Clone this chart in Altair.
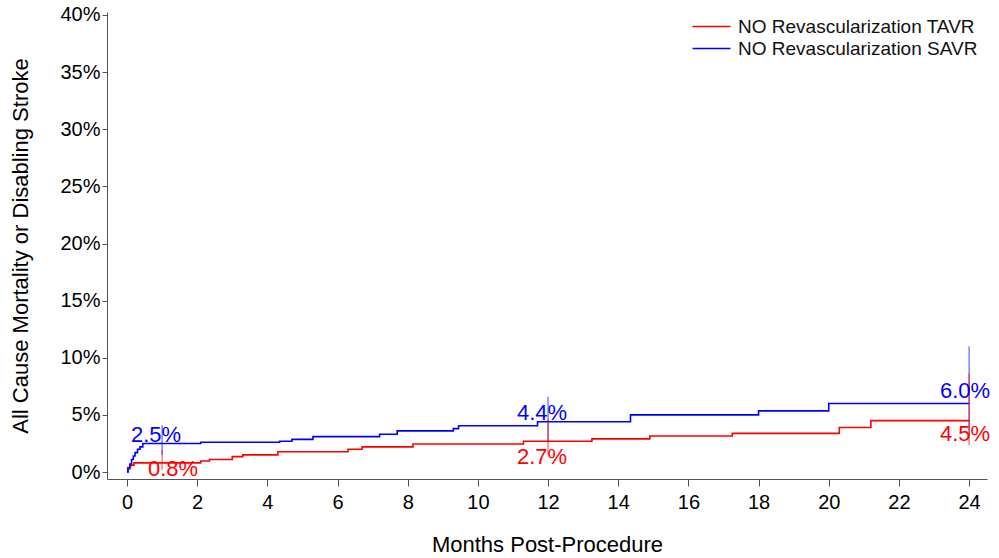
import altair as alt
import pandas as pd

# ---- data ----
tavr_month = [0, 0.02, 0.1, 0.2, 2.1, 2.35, 3.0, 3.3, 4.3, 6.3, 6.7, 8.15, 11.3, 13.25, 14.9, 17.25, 20.3, 21.2, 24]
tavr_pct = [0, 0.4, 0.6, 0.8, 0.96, 1.1, 1.35, 1.5, 1.78, 2.0, 2.2, 2.45, 2.7, 2.9, 3.15, 3.38, 3.9, 4.5, 4.5]

savr_month = [0, 0.03, 0.08, 0.13, 0.18, 0.23, 0.3, 0.37, 0.45, 2.1, 4.35, 4.7, 5.3, 7.2, 7.7, 9.3, 9.45, 11.7, 14.35, 18.0, 20.0, 24]
savr_pct = [0, 0.3, 0.7, 1.1, 1.4, 1.7, 2.0, 2.2, 2.5, 2.6, 2.7, 2.86, 3.1, 3.3, 3.6, 3.8, 4.05, 4.4, 5.0, 5.35, 6.0, 6.0]

landmark_months = [1, 12, 24]
tavr_est = [0.8, 2.7, 4.5]
tavr_lo = [0.2, 1.5, 2.35]
tavr_hi = [1.9, 4.6, 8.6]
savr_est = [2.5, 4.4, 6.0]
savr_lo = [1.5, 2.6, 3.2]
savr_hi = [4.1, 6.6, 11.0]

series_names = ["NO Revascularization TAVR", "NO Revascularization SAVR"]
series_colors = ["#FF0000", "#0000FF"]

FONT = "Liberation Sans"

curve_df = pd.concat([
    pd.DataFrame({"month": tavr_month, "pct": tavr_pct, "series": series_names[0]}),
    pd.DataFrame({"month": savr_month, "pct": savr_pct, "series": series_names[1]}),
])

tavr_lm = pd.DataFrame({"month": landmark_months, "est": tavr_est, "lo": tavr_lo, "hi": tavr_hi})
savr_lm = pd.DataFrame({"month": landmark_months, "est": savr_est, "lo": savr_lo, "hi": savr_hi})

x_scale = alt.Scale(domain=[-0.57, 24.51], nice=False, zero=False)
y_scale = alt.Scale(domain=[-0.61, 40.26], nice=False, zero=False)
color_scale = alt.Scale(domain=series_names, range=series_colors)

x_axis = alt.Axis(
    title="Months Post-Procedure",
    values=list(range(0, 25)),
    labelExpr="datum.value % 2 == 0 ? datum.label : ''",
    grid=False, tickSize=7, labelPadding=6, labelFontSize=20, labelFont=FONT,
    labelColor="black", titleFont=FONT, titleFontSize=22, titleFontWeight="normal",
    titleColor="black", titlePadding=22, domainColor="#555555", tickColor="#555555",
    labelFlush=False,
)
y_axis = alt.Axis(
    title="All Cause Mortality or Disabling Stroke",
    values=[i * 2.5 for i in range(17)],
    labelExpr="datum.value % 5 == 0 ? datum.value + '%' : ''",
    grid=False, tickSize=5, labelPadding=2, labelFontSize=20, labelFont=FONT,
    labelColor="black", titleFont=FONT, titleFontSize=22, titleFontWeight="normal",
    titleColor="black", titlePadding=27, domainColor="#555555", tickColor="#555555",
    labelFlush=False,
)

lines = alt.Chart(curve_df).mark_line(interpolate="step-after", strokeWidth=1.6).encode(
    x=alt.X("month:Q", scale=x_scale, axis=x_axis),
    y=alt.Y("pct:Q", scale=y_scale, axis=y_axis),
    color=alt.Color("series:N", scale=color_scale, sort=series_names,
                    legend=alt.Legend(title=None)),
)

layers = [lines]
for df, col in [(savr_lm, series_colors[1]), (tavr_lm, series_colors[0])]:
    layers.append(
        alt.Chart(df).mark_rule(strokeWidth=1, opacity=0.75).encode(
            x=alt.X("month:Q", scale=x_scale),
            y=alt.Y("lo:Q", scale=y_scale),
            y2="hi:Q",
            color=alt.value(col),
        )
    )

# label offsets (style)
savr_offsets = [(-6, -1), (-6, -2), (-4, -5)]
tavr_offsets = [(11, 13), (-6, 23), (-4, 20)]
for df, col, offs in [(savr_lm, series_colors[1], savr_offsets), (tavr_lm, series_colors[0], tavr_offsets)]:
    for i, m in enumerate(landmark_months):
        dx, dy = offs[i]
        layers.append(
            alt.Chart(df).transform_filter(alt.datum.month == m)
            .transform_calculate(lab="format(datum.est, '.1f') + '%'")
            .mark_text(font=FONT, fontSize=22, align="center", baseline="alphabetic", dx=dx, dy=dy)
            .encode(
                x=alt.X("month:Q", scale=x_scale),
                y=alt.Y("est:Q", scale=y_scale),
                text="lab:N",
                color=alt.value(col),
            )
        )

chart = alt.layer(*layers).properties(
    width=880, height=467,
    autosize=alt.AutoSizeParams(type="none"),
    padding={"left": 107, "top": 12, "right": 12, "bottom": 79},
).configure_view(stroke=None).configure_legend(
    orient="none", legendX=594, legendY=4, symbolType="M-2,0H2", symbolSize=361,
    symbolStrokeWidth=1.5, labelFont=FONT, labelFontSize=19, labelColor="#111111",
    labelOffset=16, rowPadding=1, padding=0, labelLimit=400,
)

chart.save("out.html", embed_options={"renderer": "svg", "actions": False})
